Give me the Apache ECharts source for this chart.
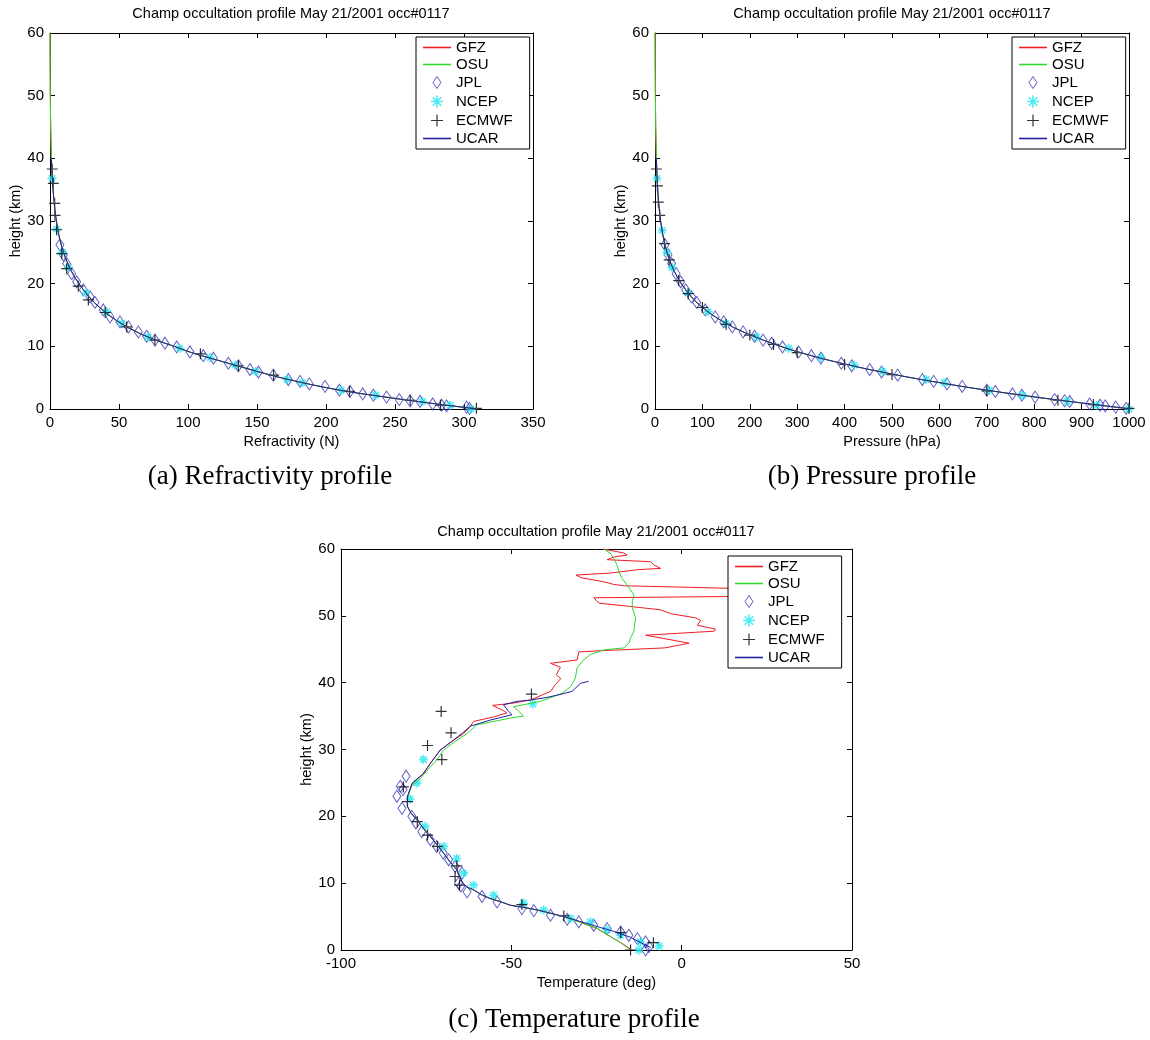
<!DOCTYPE html>
<html><head><meta charset="utf-8">
<script src="https://cdn.jsdelivr.net/npm/echarts@6/dist/echarts.min.js"></script>
<style>html,body{margin:0;padding:0;background:#fff}#c{width:1150px;height:1040px}</style>
</head><body><div id="c"></div>
<script>
// ---------- DATA ----------
const titleText = 'Champ occultation profile May 21/2001 occ#0117';
const captions = ['(a) Refractivity profile', '(b) Pressure profile', '(c) Temperature profile'];
const xNames = ['Refractivity (N)', 'Pressure (hPa)', 'Temperature (deg)'];
const yName = 'height (km)';
const seriesNames = ['GFZ', 'OSU', 'JPL', 'NCEP', 'ECMWF', 'UCAR'];
const xRanges = [[0, 350, 50], [0, 1000, 100], [-100, 50, 50]];
const yRange = [0, 60, 10];

// (a) Refractivity [N, height km]
const refrLine = [[0.05,60],[0.1,55],[0.22,50],[0.5,45],[1.0,40],[1.4,38],[1.9,36],[2.6,34],[3.4,32],[4.6,30],[6.2,28],[7.2,27],[8.4,26],[9.8,25],[11.4,24],[13.3,23],[15.5,22],[18,21],[21,20],[24.3,19],[28,18],[32,17],[37,16],[42.5,15],[49,14],[56.5,13],[65.5,12],[76.5,11],[90,10],[96,9.5],[102.5,9],[110,8.5],[118,8],[126,7.5],[134,7],[142,6.5],[150,6],[158.5,5.5],[167,5],[177,4.5],[187,4],[198,3.5],[210,3],[224,2.5],[240,2],[256,1.5],[273,1],[291,0.5],[310,0]];
const jplRefr = [[7.2,26.2],[9.7,24.6],[12.1,23.2],[15.7,21.6],[19.3,20.3],[24.2,19.0],[29,17.9],[32.6,17.0],[38.6,15.8],[43.5,14.7],[50.7,13.9],[56.8,13.1],[64,12.3],[70,11.6],[76.1,11.0],[83.3,10.5],[91.8,9.9],[101.4,9.1],[111.1,8.5],[118.4,8.1],[129.2,7.3],[136.5,6.9],[144.9,6.3],[151,5.9],[161.8,5.4],[172.7,4.7],[181.2,4.4],[187.9,4.0],[199.3,3.6],[209.7,3.0],[217.4,2.8],[226.6,2.4],[234.3,2.2],[243.9,1.9],[253.1,1.5],[260.9,1.3],[268.1,1.2],[277.3,0.8],[283.8,0.6],[287.4,0.5],[301.9,0.3],[304,0.1]];
const ncepRefr = [[305,0],[290,0.6],[270,1.2],[236,2.2],[211,3.0],[183,4.2],[172,4.7],[149,6.0],[134,7.0],[116,8.2],[94,9.7],[71,11.5],[52,13.7],[41,15.5],[26,18.5],[13.5,22.6],[9,25.0],[4.8,28.7],[1.5,36.8]];
const ecmwfRefr = [[309,0.1],[283,0.6],[261,1.4],[217,2.8],[162,5.4],[136.5,6.9],[109,8.8],[76,11.0],[55.6,13.1],[40,15.4],[27.8,17.4],[20.5,19.6],[12.1,22.4],[8.5,24.8],[4.8,28.6],[3.6,30.9],[3.4,32.8],[2.4,36.0],[1.6,38.3]];

// (b) Pressure [hPa, height km]
const pressLine = [[0.2,60],[0.4,55],[0.8,50],[1.5,45],[2.9,40],[3.8,38],[5.0,36],[6.6,34],[8.8,32],[11.8,30],[16,28],[18.6,27],[21.7,26],[25.3,25],[29.5,24],[34.5,23],[40.5,22],[47.5,21],[55.5,20],[65,19],[75.5,18],[88,17],[103,16],[121,15],[142,14],[166,13],[195,12],[228,11],[265,10],[285,9.5],[307,9],[330,8.5],[355,8],[382,7.5],[410,7],[440,6.5],[472,6],[505,5.5],[540,5],[577,4.5],[616,4],[656,3.5],[700,3],[745,2.5],[793,2],[843,1.5],[896,1],[950,0.5],[1005,0]];
const jplPress = [[21,26.2],[27.5,24.6],[35,23.2],[44.5,21.6],[54,20.3],[65,19],[77,17.9],[88,17],[106,15.8],[127,14.7],[145,13.9],[163,13.1],[186,12.3],[210,11.6],[228,11],[246,10.5],[269,9.9],[303,9.1],[330,8.5],[350,8.1],[393,7.3],[415,6.9],[453,6.3],[478,5.9],[512,5.4],[564,4.7],[588,4.4],[616,4.0],[648,3.6],[700,3.0],[718,2.8],[754,2.4],[774,2.2],[802,1.9],[843,1.5],[864,1.3],[875,1.2],[917,0.8],[939,0.6],[950,0.5],[972,0.3],[994,0.1]];
const ncepPress = [[1000,0],[932,0.6],[870,1.2],[775,2.2],[705,3.0],[610,4.2],[572,4.7],[480,6.0],[420,7.0],[350,8.2],[282,9.7],[215,11.5],[150,13.7],[112,15.5],[70,18.5],[36,22.6],[25,25.0],[15,28.5],[4.3,36.8]];
const ecmwfPress = [[1000,0.1],[925,0.7],[850,1.4],[700,2.9],[500,5.5],[400,7.1],[300,9.0],[250,10.3],[200,11.8],[150,13.5],[100,16.2],[70,18.4],[50,20.5],[30,23.8],[20,26.4],[10,30.9],[7,33.0],[5,35.6],[3,38.3]];

// (c) Temperature [deg, height km]
const gfzTemp = [[-23.0,60.0],[-17.0,59.4],[-16.0,59.1],[-19.9,58.8],[-21.9,58.4],[-9.1,58.1],[-8.1,57.6],[-6.2,57.1],[-13.0,56.9],[-20.9,56.4],[-31.0,56.1],[-29.5,55.7],[-22.9,55.1],[-20.0,54.7],[-17.0,54.5],[16.0,54.1],[16.0,52.9],[-25.8,52.7],[-24.3,51.9],[-15.0,51.4],[-6.2,50.9],[-3.0,50.3],[4.1,49.7],[5.6,49.3],[4.6,48.6],[10.0,48.0],[9.5,47.7],[-10.6,47.1],[-3.0,46.4],[2.2,45.9],[-5.0,45.2],[-22.9,44.8],[-30.2,44.6],[-30.7,43.4],[-38.5,42.9],[-35.6,42.3],[-36.8,41.2],[-35.5,40.6],[-37.1,39.7],[-38.5,38.7],[-44.4,37.4],[-50.0,36.9],[-55.5,36.6],[-53.0,36.0],[-51.3,35.5],[-55.0,34.9],[-61.1,34.2],[-62.1,33.4],[-64.0,32.4],[-67.5,31.2],[-70.9,29.9],[-73.8,27.9],[-75.8,26.4],[-79.2,24.9],[-80.5,22.9],[-80.5,21.5],[-79.5,20.5],[-77.7,19.5],[-75.8,18.2],[-73.8,17.0],[-71.9,15.8],[-69.9,14.5],[-68.0,13.2],[-66.0,12.0],[-64.5,10.2],[-63.0,9.4],[-61.1,9.0],[-58.5,8.2],[-56.2,7.7],[-53.0,7.2],[-50.3,6.7],[-44.4,6.2],[-40.0,5.7],[-34.6,5.0],[-30.0,4.2],[-24.8,3.2],[-20.9,2.0],[-17.5,1.0],[-15.0,0.1]];
const osuTemp = [[-23.0,60.0],[-21.0,59.4],[-19.9,58.6],[-19.0,57.6],[-18.4,56.6],[-17.5,55.6],[-16.0,54.6],[-14.0,53.1],[-14.5,52.2],[-14.5,51.2],[-13.5,49.7],[-13.8,48.7],[-14.0,47.7],[-15.0,46.7],[-15.5,45.9],[-17.0,45.2],[-22.9,44.9],[-26.8,44.2],[-29.0,43.3],[-30.7,42.2],[-31.2,40.7],[-32.6,39.4],[-35.1,38.4],[-41.5,37.2],[-49.3,36.4],[-48.0,35.8],[-46.4,35.0],[-50.3,34.7],[-60.1,33.7],[-63.0,32.4],[-66.5,31.2],[-69.9,29.9],[-71.8,28.5],[-73.8,27.4],[-76.8,25.6],[-79.2,24.6],[-80.0,23.5],[-80.5,22.5],[-80.5,21.5],[-79.5,20.5],[-77.7,19.5],[-75.8,18.2],[-73.8,17.0],[-71.9,15.8],[-69.9,14.5],[-68.0,13.2],[-66.0,12.0],[-64.5,10.2],[-63.0,9.4],[-61.1,9.0],[-58.5,8.2],[-56.2,7.7],[-53.0,7.2],[-50.3,6.7],[-44.4,6.2],[-40.0,5.7],[-34.6,5.0],[-30.0,4.2],[-24.8,3.2],[-21.5,2.2],[-18.0,1.1],[-15.5,0.2]];
const ucarTemp = [[-27.3,40.2],[-29.7,39.9],[-32.2,38.7],[-35.1,38.3],[-39.5,37.8],[-44.4,37.4],[-48.3,37.2],[-52.3,36.7],[-50.8,35.7],[-49.8,35.2],[-56.2,34.4],[-62.0,33.5],[-64.5,32.4],[-68.0,31.0],[-70.9,29.9],[-73.8,27.9],[-76.0,26.3],[-79.0,25.0],[-80.5,23.0],[-80.5,21.5],[-79.5,20.5],[-77.7,19.5],[-75.8,18.2],[-73.8,17.0],[-71.9,15.8],[-69.9,14.5],[-68.0,13.2],[-66.0,12.0],[-64.5,10.2],[-63.0,9.4],[-61.1,9.0],[-58.5,8.2],[-56.2,7.7],[-53.0,7.2],[-50.3,6.7],[-44.4,6.2],[-40.0,5.7],[-34.6,5.0],[-30.0,4.3],[-24.8,3.5],[-20.0,2.8],[-15.0,1.9],[-12.0,1.1],[-9.1,0.4]];
const jplTemp = [[-80.9,26.0],[-82.6,24.5],[-81.8,24.0],[-83.6,23.0],[-82.1,21.2],[-79.2,20.0],[-78.0,19.0],[-76.3,17.7],[-73.8,16.5],[-71.9,15.5],[-70.0,14.5],[-68.4,13.5],[-66.5,12.5],[-64.5,11.5],[-65.5,10.0],[-64.8,9.6],[-63.0,8.7],[-58.6,8.0],[-54.2,7.2],[-46.9,6.2],[-43.4,5.9],[-38.5,5.2],[-33.6,4.6],[-30.2,4.2],[-25.8,3.7],[-21.9,3.2],[-17.9,2.7],[-15.5,2.2],[-13.0,1.7],[-10.6,1.2],[-9.6,0.5],[-10.6,0.0]];
const ncepTemp = [[-43.7,36.8],[-75.8,28.5],[-77.7,25.0],[-79.7,22.6],[-75.3,18.5],[-69.9,15.5],[-66.0,13.7],[-64.0,11.5],[-61.1,9.7],[-55.2,8.2],[-46.4,7.0],[-40.5,6.0],[-32.6,4.7],[-26.8,4.2],[-21.9,3.0],[-17.9,2.2],[-12.1,1.2],[-6.6,0.6],[-12.6,0.0]];
const ecmwfTemp = [[-44.1,38.3],[-70.6,35.7],[-67.7,32.5],[-74.6,30.6],[-70.4,28.5],[-81.7,24.4],[-80.5,22.2],[-77.6,19.2],[-74.6,17.2],[-71.7,15.5],[-66.0,12.6],[-66.5,11.0],[-65.2,9.7],[-46.9,6.8],[-34.6,5.1],[-17.9,2.6],[-8.3,1.1],[-15.0,0.0]];

// ---------- STYLE / LAYOUT ----------
const SANS = '"Liberation Sans", Arial, sans-serif';
const SERIF = '"Liberation Serif", "DejaVu Serif", serif';
const C = { GFZ:'#ee1c24', OSU:'#2ed82e', JPL:'#3535b8', NCEP:'#1ee6f0', ECMWF:'#000000', UCAR:'#2020a0' };
const grids = [
  {left:50, top:33, width:483, height:376},
  {left:655, top:33, width:474, height:376},
  {left:341, top:549, width:511, height:401}
];
const legendPos = [{left:416, top:37}, {left:1012, top:37}, {left:728, top:556}];
const titlePos = [{left:291, top:6}, {left:892, top:6}, {left:596, top:524}];
const captionPos = [{left:270, top:463}, {left:872, top:463}, {left:574, top:1006}];

const DIAMOND = 'path://M4,0L8,6L4,12L0,6Z';
const PLUS = 'path://M0,5L10,5M5,0L5,10';
const STAR = 'path://M5,0L5,10M0,5L10,5M1.5,1.5L8.5,8.5M8.5,1.5L1.5,8.5';
const LINEICON = 'path://M0,0H30V1.7H0Z';

const panelData = [
  {GFZ: refrLine, OSU: refrLine, JPL: jplRefr, NCEP: ncepRefr, ECMWF: ecmwfRefr, UCAR: refrLine.filter(p => p[1] <= 40)},
  {GFZ: pressLine, OSU: pressLine, JPL: jplPress, NCEP: ncepPress, ECMWF: ecmwfPress, UCAR: pressLine.filter(p => p[1] <= 40)},
  {GFZ: gfzTemp, OSU: osuTemp, JPL: jplTemp, NCEP: ncepTemp, ECMWF: ecmwfTemp, UCAR: ucarTemp}
];

const axisCommon = {
  type: 'value',
  axisLine: {show: true, onZero: false, lineStyle: {color: '#000', width: 1}},
  axisTick: {show: true, inside: true, length: 5, lineStyle: {color: '#000'}},
  splitLine: {show: false},
};
const plainNum = v => String(v);
const xAxis = [], yAxis = [];
grids.forEach((g, p) => {
  const [mn, mx, iv] = xRanges[p];
  xAxis.push(Object.assign({}, axisCommon, {
    gridIndex: p, position: 'bottom', min: mn, max: mx, interval: iv,
    axisLabel: {color: '#000', fontSize: 15, fontFamily: SANS, margin: 6, formatter: plainNum},
    name: xNames[p], nameLocation: 'middle', nameGap: 25,
    nameTextStyle: {color: '#000', fontSize: 14.5, fontFamily: SANS}
  }));
  xAxis.push(Object.assign({}, axisCommon, {
    gridIndex: p, position: 'top', min: mn, max: mx, interval: iv, axisLabel: {show: false}
  }));
  yAxis.push(Object.assign({}, axisCommon, {
    gridIndex: p, position: 'left', min: yRange[0], max: yRange[1], interval: yRange[2],
    axisLabel: {color: '#000', fontSize: 15, fontFamily: SANS, margin: 6, formatter: plainNum},
    name: yName, nameLocation: 'middle', nameGap: 27,
    nameTextStyle: {color: '#000', fontSize: 14.5, fontFamily: SANS}
  }));
  yAxis.push(Object.assign({}, axisCommon, {
    gridIndex: p, position: 'right', min: yRange[0], max: yRange[1], interval: yRange[2], axisLabel: {show: false}
  }));
});

const series = [];
panelData.forEach((pd, p) => {
  const xi = p * 2, yi = p * 2;
  const base = {xAxisIndex: xi, yAxisIndex: yi, animation: false, silent: true};
  const line = (name) => Object.assign({}, base, {
    type: 'line', name, data: pd[name], symbol: 'none', showSymbol: false,
    lineStyle: {color: C[name], width: 1}, itemStyle: {color: C[name]}
  });
  const scat = (name, sym, size, bw) => Object.assign({}, base, {
    type: 'scatter', name, data: pd[name], symbol: sym, symbolSize: size,
    itemStyle: {color: 'none', borderColor: C[name], borderWidth: bw}
  });
  series.push(line('GFZ'));
  series.push(line('OSU'));
  series.push(scat('JPL', DIAMOND, [8, 12], 1));
  series.push(scat('NCEP', STAR, [9, 9], 1.6));
  series.push(scat('ECMWF', PLUS, [11, 11], 1.2));
  series.push(line('UCAR'));
});

const legendItems = [
  {name: 'GFZ', icon: LINEICON, itemStyle: {color: C.GFZ, borderWidth: 0}},
  {name: 'OSU', icon: LINEICON, itemStyle: {color: C.OSU, borderWidth: 0}},
  {name: 'JPL', icon: DIAMOND, itemStyle: {color: 'none', borderColor: C.JPL, borderWidth: 1}},
  {name: 'NCEP', icon: STAR, itemStyle: {color: 'none', borderColor: C.NCEP, borderWidth: 1.6}},
  {name: 'ECMWF', icon: PLUS, itemStyle: {color: 'none', borderColor: C.ECMWF, borderWidth: 1.2}},
  {name: 'UCAR', icon: LINEICON, itemStyle: {color: C.UCAR, borderWidth: 0}}
];
const legend = legendPos.map(lp => ({
  orient: 'vertical', left: lp.left, top: lp.top,
  itemWidth: 28, itemHeight: 12, itemGap: 2,
  padding: [3, 17, 3, 7],
  backgroundColor: '#fff', borderColor: '#000', borderWidth: 1, borderRadius: 0,
  selectedMode: false, symbolKeepAspect: true,
  textStyle: {color: '#000', fontSize: 15, fontFamily: SANS},
  data: legendItems, z: 10
}));

const title = [];
titlePos.forEach(tp => title.push({
  text: titleText, left: tp.left, top: tp.top, textAlign: 'center', padding: 0,
  textStyle: {color: '#000', fontSize: 14.5, fontWeight: 'normal', fontFamily: SANS}
}));
captionPos.forEach((cp, i) => title.push({
  text: captions[i], left: cp.left, top: cp.top, textAlign: 'center', padding: 0,
  textStyle: {color: '#000', fontSize: 27, fontWeight: 'normal', fontFamily: SERIF}
}));

const chart = echarts.init(document.getElementById('c'), null, {renderer: 'canvas'});
chart.setOption({
  backgroundColor: '#fff',
  animation: false,
  title, legend, grid: grids, xAxis, yAxis, series
});
</script></body></html>
